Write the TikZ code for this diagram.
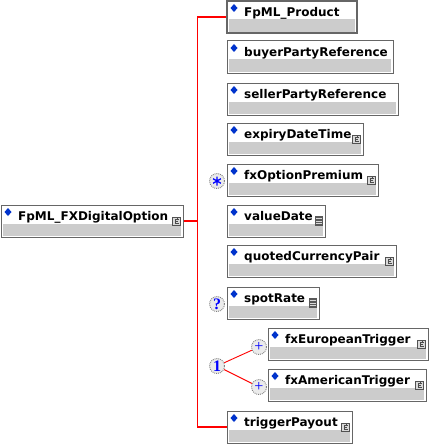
\documentclass[tikz,border=0pt]{standalone}
\usepackage{fontspec}
\setmainfont{DejaVu Sans}
\newfontfamily\symfont{Liberation Serif}
\definecolor{bandgray}{HTML}{CCCCCC}
\definecolor{edgegray}{HTML}{666666}
\definecolor{dblue}{HTML}{0033CC}
\definecolor{linered}{HTML}{FF0000}
\tikzset{
  elbox/.style={draw=edgegray, fill=white, line width=1pt, inner sep=0pt, minimum height=32pt, rectangle},
  eltext/.style={anchor=base west, inner sep=0pt, font=\fontsize{12}{14}\selectfont\bfseries},
  cardcirc/.style={circle, draw=gray, densely dotted, line width=0.9pt, fill=black!8, minimum size=15pt, inner sep=0pt, text=blue, font=\symfont\fontsize{16}{16}\selectfont\bfseries},
  redline/.style={draw=linered, line width=1.2pt},
  choiceline/.style={draw=linered, line width=0.9pt}
}
\newcommand\elem[7]{% name, left, top, right, label, icon, border width
  \node[elbox, line width=#7, minimum width={#4pt-#2pt}] (#1) at ({(#2+#4)/2},{#3+16}) {};
  \fill[bandgray] (#2+2,#3+18.5) rectangle (#4-2,#3+31);
  \fill[dblue] (#2+7,#3+3) -- (#2+10.5,#3+7) -- (#2+7,#3+11) -- (#2+3.5,#3+7) -- cycle;
  \node[eltext] at (#2+17,#3+15.5) {#5};
  \ifcase#6\relax
  \or
    \draw[edgegray!80!black, fill=black!15, line width=0.8pt] (#4-10.5,#3+12) rectangle (#4-2.5,#3+20);
    \draw[black!70, line width=0.7pt] (#4-4.5,#3+14) -- (#4-7.5,#3+14) -- (#4-7.5,#3+18.5) -- (#4-4,#3+18.5);
    \draw[black!70, line width=0.7pt] (#4-7.5,#3+16.2) -- (#4-5.5,#3+16.2) (#4-5.5,#3+14) -- (#4-5.5,#3+12.8);
  \or
    \fill[black!65] (#4-10.5,#3+11) rectangle (#4-2,#3+21);
    \draw[white!85!black, line width=0.8pt] (#4-9,#3+13.5) -- (#4-3.5,#3+13.5) (#4-9,#3+16) -- (#4-3.5,#3+16) (#4-9,#3+18.5) -- (#4-3.5,#3+18.5);
  \fi
}
\begin{document}
\begin{tikzpicture}[x=1pt,y=-1pt]
\useasboundingbox (0,0) rectangle (429,444);
\elem{main}{1}{205}{183}{FpML\_FXDigitalOption}{1}{1pt}
\elem{prod}{227}{1}{357}{FpML\_Product}{0}{1.6pt}
\elem{buyer}{227}{41}{393}{buyerPartyReference}{0}{1pt}
\elem{seller}{227}{83}{398}{sellerPartyReference}{0}{1pt}
\elem{expiry}{227}{123}{363}{expiryDateTime}{1}{1pt}
\elem{premium}{227}{164}{378}{fxOptionPremium}{1}{1pt}
\elem{value}{227}{205}{325}{valueDate}{2}{1pt}
\elem{quoted}{227}{245}{396}{quotedCurrencyPair}{1}{1pt}
\elem{spot}{227}{287}{319}{spotRate}{2}{1pt}
\elem{euro}{268}{328}{428}{fxEuropeanTrigger}{1}{1pt}
\elem{amer}{268}{369}{426}{fxAmericanTrigger}{1}{1pt}
\elem{trig}{227}{411}{352}{triggerPayout}{1}{1pt}
% cardinality markers
\node[cardcirc] (star) at (217,181) {};
\draw[blue, line width=1.3pt] (star.center) ++(0,-4.5) -- ++(0,9)
  (star.center) ++(-3.9,-2.25) -- ++(7.8,4.5)
  (star.center) ++(-3.9,2.25) -- ++(7.8,-4.5);
\node[cardcirc] (opt) at (217,304) {?};
\node[cardcirc] (choice) at (217,366) {1};
\node[cardcirc, font=\symfont\fontsize{16}{16}\selectfont] (plusA) at (259,347) {+};
\node[cardcirc, font=\symfont\fontsize{16}{16}\selectfont] (plusB) at (259,387) {+};
% connectors
\coordinate (bus) at (197.5,221);
\draw[redline] (main.east) -- (bus);
\draw[redline] (prod.west) -| (bus) |- (trig.west);
\draw[choiceline] (choice) -- (plusA);
\draw[choiceline] (choice) -- (plusB);
\end{tikzpicture}
\end{document}
